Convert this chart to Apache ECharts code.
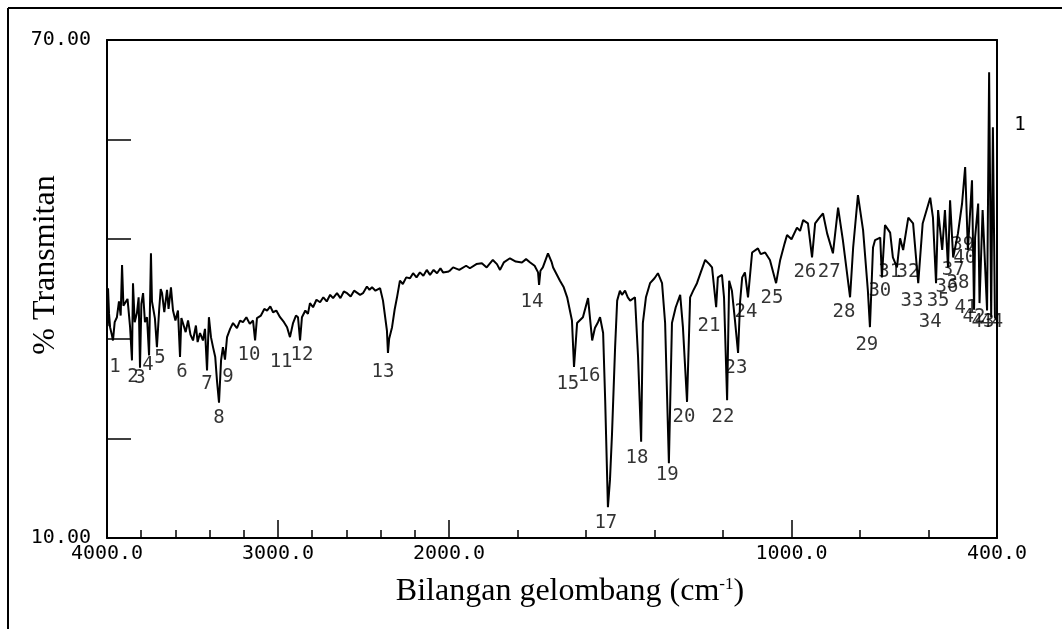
<!DOCTYPE html>
<html>
<head>
<meta charset="utf-8">
<script src="https://cdn.jsdelivr.net/npm/echarts@6/dist/echarts.min.js"></script>
<style>
  html, body { margin: 0; padding: 0; background: #fff; }
  #chart { width: 1062px; height: 629px; }
</style>
</head>
<body>
<div id="chart"></div>
<script>
// IR spectrum: wavenumber (cm-1) and % transmittance
const wavenumbers = [
  4000,3996,3994,3988,3982,3972,3965,3955,3942,3930,3920,3912,3904,3895,3880,3865,3854,3848,3838,3825,
  3815,3807,3799,3789,3778,3766,3754,3743,3737,3731,3720,3708,3695,3686,3678,3665,3649,3640,3626,3614,
  3600,3585,3573,3565,3556,3540,3526,3512,3497,3480,3470,3456,3439,3427,3415,3404,3392,3380,3367,3357,
  3345,3333,3322,3310,3298,3280,3263,3240,3222,3205,3185,3165,3146,3134,3123,3100,3080,3064,3045,3029,
  3010,2988,2965,2947,2930,2912,2895,2883,2871,2860,2840,2825,2813,2795,2775,2754,2735,2715,2695,2678,
  2655,2635,2615,2596,2575,2555,2520,2503,2480,2465,2450,2430,2403,2386,2363,2357,2350,2333,2318,2304,
  2287,2270,2250,2228,2210,2190,2170,2150,2130,2111,2090,2070,2050,2035,2000,
  1988,1970,1950,1939,1920,1904,1890,1872,1860,1851,1840,1822,1805,1787,1775,1763,1750,1740,1737,1733,
  1726,1711,1700,1696,1676,1665,1655,1641,1635,1630,1626,1609,1594,1582,1574,1565,1559,1550,1544,1536,
  1530,1524,1515,1509,1501,1495,1486,1478,1471,1457,1448,1439,1434,1425,1413,1400,1390,1378,1369,1358,
  1349,1338,1325,1317,1305,1296,1287,1276,1265,1252,1240,1232,1220,1215,1203,1197,1188,1182,1174,1165,
  1156,1150,1144,1136,1127,1115,1098,1090,1077,1063,1045,1033,1020,1013,1000,984,975,966,952,940,
  931,920,908,896,879,864,850,829,820,806,791,777,771,762,756,741,736,727,712,704,
  692,683,674,659,645,630,617,595,587,578,572,560,552,543,537,528,514,502,493,485,
  473,467,464,455,451,442,429,423,417,412,406,400
];
const transmittance = [
  39.9,35.5,40.1,37.0,35.4,34.5,33.8,36.0,36.6,38.5,36.8,42.9,38.0,37.8,38.8,35.4,31.4,40.7,36.0,37.1,
  39.0,30.5,38.2,39.5,36.0,36.6,32.0,44.3,38.5,37.8,36.5,33.0,37.5,40.0,39.5,37.2,39.9,37.6,40.2,37.4,
  36.2,37.4,31.8,36.5,35.9,34.8,36.2,34.5,33.8,35.6,33.6,34.7,33.8,35.2,30.2,36.6,34.2,33.0,31.8,29.0,
  26.3,31.4,33.0,31.5,34.2,35.2,35.9,35.3,36.2,36.0,36.6,35.8,36.2,33.8,36.5,36.8,37.6,37.4,37.9,37.2,
  37.4,36.6,36.0,35.4,34.2,35.9,36.8,36.6,33.8,36.6,37.4,37.0,38.3,37.8,38.7,38.4,39.0,38.5,39.3,38.9,
  39.5,38.9,39.7,39.5,39.1,39.8,39.3,39.5,40.3,39.9,40.2,39.8,40.1,38.6,35.0,32.3,34.0,35.4,37.5,39.0,
  41.0,40.6,41.4,41.3,41.9,41.4,42.0,41.6,42.3,41.7,42.3,41.9,42.5,42.0,42.1,
  42.6,42.3,42.8,42.5,43.0,43.1,42.6,43.5,43.0,42.3,43.2,43.7,43.3,43.2,43.6,43.2,42.8,42.0,40.5,42.2,
  42.6,44.3,43.2,42.6,41.0,40.2,39.0,36.2,30.6,33.5,35.9,36.6,38.9,33.8,35.3,36.0,36.6,34.7,26.6,13.7,
  17.0,22.6,33.0,38.6,39.8,39.3,39.8,39.0,38.6,39.0,31.8,21.6,35.9,39.0,40.7,41.3,41.9,40.7,35.9,19.0,
  35.9,37.8,39.3,35.4,26.4,39.0,39.8,40.7,42.0,43.5,43.0,42.6,37.8,41.4,41.7,39.0,26.6,41.0,39.8,36.2,
  32.3,38.5,41.4,42.0,39.0,44.4,44.9,44.2,44.4,43.5,40.7,43.5,45.5,46.5,46.0,47.4,47.0,48.3,47.9,43.8,
  47.9,48.5,49.1,46.7,44.3,49.8,45.9,39.0,45.0,51.3,47.1,39.8,35.4,45.0,45.9,46.2,41.4,47.7,46.8,43.8,
  42.6,46.1,44.7,48.6,47.9,40.7,47.9,51.0,48.6,40.7,49.5,44.7,49.5,42.6,50.7,43.8,46.7,50.3,54.7,44.7,
  53.1,37.5,46.2,50.3,38.3,49.5,37.4,66.1,36.6,59.5,36.6,36.2
];

// numbered peak labels: number, wavenumber and %T where the label sits
const peakNumbers = [
  '1','2','3','4','5','6','7','8','9','10','11','12','13','14','15','16','17','18','19','20','21','22',
  '23','24','25','26','27','28','29','30','31','32','33','34','35','36','37','38','39','40','41','42','43','44'
];
const peakLabelWn = [
  3953,3848,3807,3760,3690,3561,3415,3345,3292,3170,2982,2860,2386,1758,1653,1591,1542,1451,1363,1314,1241,1200,
  1162,1133,1057,961,890,847,780,742,713,660,648,595,572,546,528,514,500,494,491,467,441,415
];
const peakLabelT = [
  30.6,29.4,29.3,30.8,31.7,30.0,28.6,24.4,29.4,32.0,31.2,32.0,30.0,38.4,28.6,29.5,11.8,19.6,17.6,24.6,35.5,24.6,
  30.5,37.2,38.9,42.0,42.0,37.2,33.3,39.8,42.0,42.0,38.6,36.0,38.6,40.2,42.3,40.7,45.3,43.7,37.7,36.6,36.0,36.0
];

// axis ticks (scale changes at 2000 cm-1)
const xTicksHigh = [4000, 3800, 3600, 3400, 3200, 3000, 2800, 2600, 2400, 2200, 2000];
const xMajorHigh = [3000, 2000];
const xLabelsHigh = [4000, 3000, 2000];
const xTicksLow = [1800, 1600, 1400, 1200, 1000, 800, 600, 400];
const xMajorLow = [1000];
const xLabelsLow = [1000, 400];
const yTicks = [22, 34, 46, 58];
const yLabels = [10, 70];

const BREAK = 2000;
const spectrum = wavenumbers.map((w, i) => [w, transmittance[i]]);
const highPart = spectrum.filter(p => p[0] >= BREAK);
const lowPart = spectrum.filter(p => p[0] <= BREAK);
const peaks = peakNumbers.map((n, i) => ({ name: n, value: [peakLabelWn[i], peakLabelT[i]] }));
const peaksHigh = peaks.filter(p => p.value[0] >= BREAK);
const peaksLow = peaks.filter(p => p.value[0] < BREAK);

const MONO = '"DejaVu Sans Mono", "Liberation Mono", monospace';
const SERIF = '"Liberation Serif", "DejaVu Serif", serif';
const INK = '#000';

function bottomAxis(grid, min, max, ticks, len, labels) {
  return {
    type: 'value', gridIndex: grid, min: min, max: max, inverse: true, position: 'bottom',
    axisLine: { show: labels !== null, lineStyle: { color: INK, width: 2 } },
    axisTick: { show: true, inside: true, length: len, customValues: ticks, lineStyle: { color: INK, width: 1.5 } },
    axisLabel: labels === null ? { show: false } : {
      show: true, customValues: labels, formatter: v => Number(v).toFixed(1),
      fontFamily: MONO, fontSize: 20, color: INK, margin: 6
    },
    splitLine: { show: false }
  };
}
function topAxis(grid, min, max) {
  return {
    type: 'value', gridIndex: grid, min: min, max: max, inverse: true, position: 'top',
    axisLine: { show: true, lineStyle: { color: INK, width: 2 } },
    axisTick: { show: false }, axisLabel: { show: false }, splitLine: { show: false }
  };
}

const chart = echarts.init(document.getElementById('chart'), null, { renderer: 'canvas' });
chart.setOption({
  animation: false,
  backgroundColor: '#fff',
  grid: [
    { left: 107, top: 40, width: 342, height: 498 },
    { left: 449, top: 40, width: 548, height: 498 }
  ],
  xAxis: [
    bottomAxis(0, 2000, 4000, xTicksHigh, 8, xLabelsHigh),
    bottomAxis(0, 2000, 4000, xMajorHigh, 18, null),
    topAxis(0, 2000, 4000),
    bottomAxis(1, 400, 2000, xTicksLow, 8, xLabelsLow),
    bottomAxis(1, 400, 2000, xMajorLow, 18, null),
    topAxis(1, 400, 2000)
  ],
  yAxis: [
    {
      type: 'value', gridIndex: 0, min: 10, max: 70, position: 'left',
      axisLine: { show: true, lineStyle: { color: INK, width: 2 } },
      axisTick: { show: true, inside: true, length: 24, customValues: yTicks, lineStyle: { color: INK, width: 1.5 } },
      axisLabel: {
        show: true, customValues: yLabels, formatter: v => Number(v).toFixed(2),
        fontFamily: MONO, fontSize: 20, color: INK, margin: 16
      },
      splitLine: { show: false }
    },
    {
      type: 'value', gridIndex: 1, min: 10, max: 70, position: 'right',
      axisLine: { show: true, lineStyle: { color: INK, width: 2 } },
      axisTick: { show: false }, axisLabel: { show: false }, splitLine: { show: false }
    }
  ],
  series: [
    {
      type: 'line', xAxisIndex: 0, yAxisIndex: 0, data: highPart,
      showSymbol: false, symbol: 'none', silent: true,
      lineStyle: { color: INK, width: 2 }
    },
    {
      type: 'line', xAxisIndex: 3, yAxisIndex: 1, data: lowPart,
      showSymbol: false, symbol: 'none', silent: true,
      lineStyle: { color: INK, width: 2 }
    },
    {
      type: 'scatter', xAxisIndex: 0, yAxisIndex: 0, data: peaksHigh, symbolSize: 1, silent: true,
      itemStyle: { color: 'rgba(0,0,0,0)' },
      label: { show: true, position: 'inside', formatter: p => p.name, fontFamily: MONO, fontSize: 19, color: INK }
    },
    {
      type: 'scatter', xAxisIndex: 3, yAxisIndex: 1, data: peaksLow, symbolSize: 1, silent: true,
      itemStyle: { color: 'rgba(0,0,0,0)' },
      label: { show: true, position: 'inside', formatter: p => p.name, fontFamily: MONO, fontSize: 19, color: INK }
    }
  ],
  graphic: [
    { type: 'line', shape: { x1: 8, y1: 8, x2: 1062, y2: 8 }, style: { stroke: INK, lineWidth: 2 } },
    { type: 'line', shape: { x1: 8, y1: 8, x2: 8, y2: 629 }, style: { stroke: INK, lineWidth: 2 } },
    {
      type: 'text', x: 46, y: 265, rotation: Math.PI / 2,
      style: { text: '% Transmitan', font: '32px ' + SERIF, fill: INK, align: 'center', verticalAlign: 'middle' }
    },
    {
      type: 'text', x: 570, y: 592,
      style: {
        text: '{t|Bilangan gelombang (cm}{s|-1}{t|)}', align: 'center', verticalAlign: 'middle',
        rich: {
          t: { fontFamily: SERIF, fontSize: 32, fill: INK, color: INK },
          s: { fontFamily: SERIF, fontSize: 17, fill: INK, color: INK, verticalAlign: 'top', padding: [0, 0, 14, 0] }
        }
      }
    },
    {
      type: 'text', x: 1020, y: 125,
      style: { text: '1', font: '19px ' + MONO, fill: INK, align: 'center', verticalAlign: 'middle' }
    }
  ]
});
</script>
</body>
</html>
